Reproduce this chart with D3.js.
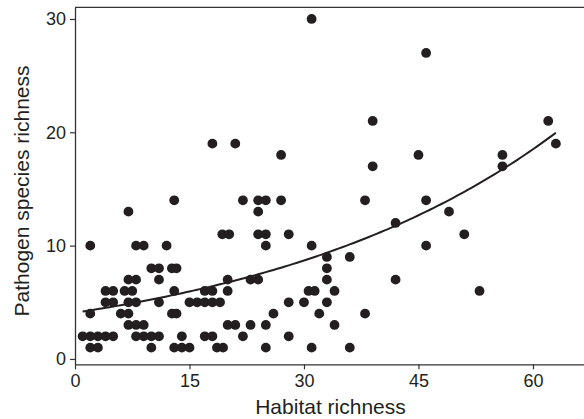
<!DOCTYPE html>
<html>
<head>
<meta charset="utf-8">
<script src="https://cdn.jsdelivr.net/npm/d3@7"></script>
<style>
  body { margin: 0; background: #fff; }
  text { font-family: "Liberation Sans", Arial, sans-serif; }
</style>
</head>
<body>
<main></main>
<script>
// Habitat richness (x) and pathogen species richness (y)
const habitatRichness = [
    31,                                   // 30
    46,                                   // 27
    39, 62,                               // 21
    18, 21, 63,                           // 19
    27, 45, 56,                           // 18
    39, 56,                               // 17
    13, 22, 24, 25, 27, 38, 46,           // 14
    7, 24, 49,                            // 13
    42,                                   // 12
    19.3, 20.2, 24, 25, 28, 51,           // 11
    2, 8, 9, 12, 25, 31, 46,              // 10
    33, 36,                               // 9
    10, 11, 12.7, 13.3, 33,               // 8
    7, 8, 11, 20, 23, 24, 33, 42,         // 7
    4, 5, 6.5, 7.5, 13, 17, 18, 20, 30.6, 31.4, 34, 53,   // 6
    4, 5, 7, 8, 11, 15, 16, 17, 18, 19, 28, 30, 33,       // 5
    2, 6, 7, 12.7, 13.3, 26, 32, 38,      // 4
    7, 8, 9, 20, 21, 23, 25, 34,          // 3
    1, 2, 3, 4, 5, 8, 9, 10, 11, 14, 17, 18, 22, 28,      // 2
    2, 3, 10, 13, 14, 15, 18.6, 19.4, 25, 31, 36          // 1
];
const pathogenRichness = [
    30,
    27,
    21, 21,
    19, 19, 19,
    18, 18, 18,
    17, 17,
    14, 14, 14, 14, 14, 14, 14,
    13, 13, 13,
    12,
    11, 11, 11, 11, 11, 11,
    10, 10, 10, 10, 10, 10, 10,
    9, 9,
    8, 8, 8, 8, 8,
    7, 7, 7, 7, 7, 7, 7, 7,
    6, 6, 6, 6, 6, 6, 6, 6, 6, 6, 6, 6,
    5, 5, 5, 5, 5, 5, 5, 5, 5, 5, 5, 5, 5,
    4, 4, 4, 4, 4, 4, 4, 4,
    3, 3, 3, 3, 3, 3, 3, 3,
    2, 2, 2, 2, 2, 2, 2, 2, 2, 2, 2, 2, 2, 2,
    1, 1, 1, 1, 1, 1, 1, 1, 1, 1, 1
];

const xTicks = [0, 15, 30, 45, 60];
const yTicks = [0, 10, 20, 30];

// exponential fit drawn in the figure: y = exp(a + b*x), over the observed x range
const fitIntercept = 1.406, fitSlope = 0.0252;
const fitRange = [1, 63];

const width = 584, height = 419;
const svg = d3.select('main').append('svg')
    .attr('width', width)
    .attr('height', height);

const x = d3.scaleLinear().domain([0, 67]).range([75, 586.4]);
const y = d3.scaleLinear().domain([-0.47, 31.03]).range([364.3, 7.3]);

const ink = '#231f20';

// frame top line
svg.append('line')
    .attr('x1', x(0)).attr('x2', width + 5)
    .attr('y1', y.range()[1]).attr('y2', y.range()[1])
    .attr('stroke', '#333').attr('stroke-width', 1.3);

const xAxis = svg.append('g')
    .attr('transform', `translate(0,${y.range()[0]})`)
    .call(d3.axisBottom(x).tickValues(xTicks).tickSize(5).tickSizeOuter(0).tickPadding(5));

const yAxis = svg.append('g')
    .attr('transform', `translate(${x(0)},0)`)
    .call(d3.axisLeft(y).tickValues(yTicks).tickSize(5).tickSizeOuter(0).tickPadding(4));

[xAxis, yAxis].forEach(g => {
    g.select('.domain').attr('stroke', '#333').attr('stroke-width', 1.3);
    g.selectAll('.tick line').attr('stroke', '#333').attr('stroke-width', 1.2);
    g.selectAll('.tick text')
        .attr('fill', ink)
        .style('font-size', '18px')
        .style('font-family', '"Liberation Sans", Arial, sans-serif');
});

// axis titles
svg.append('text')
    .attr('x', (x(0) + width) / 2 + 1)
    .attr('y', 414)
    .attr('text-anchor', 'middle')
    .attr('fill', ink)
    .style('font-size', '21px')
    .text('Habitat richness');

svg.append('text')
    .attr('transform', 'translate(29,191) rotate(-90)')
    .attr('text-anchor', 'middle')
    .attr('fill', ink)
    .style('font-size', '21px')
    .text('Pathogen species richness');

// points
svg.append('g')
    .selectAll('circle')
    .data(habitatRichness.map((h, i) => ({ h, p: pathogenRichness[i] })))
    .enter()
    .append('circle')
    .attr('cx', d => x(d.h))
    .attr('cy', d => y(d.p))
    .attr('r', 4.9)
    .attr('fill', ink);

// fitted curve
const fitLine = d3.line()
    .x(d => x(d))
    .y(d => y(Math.exp(fitIntercept + fitSlope * d)));

svg.append('path')
    .datum(d3.range(fitRange[0], fitRange[1] + 0.01, 0.5))
    .attr('fill', 'none')
    .attr('stroke', ink)
    .attr('stroke-width', 2)
    .attr('d', fitLine);
</script>
</body>
</html>
